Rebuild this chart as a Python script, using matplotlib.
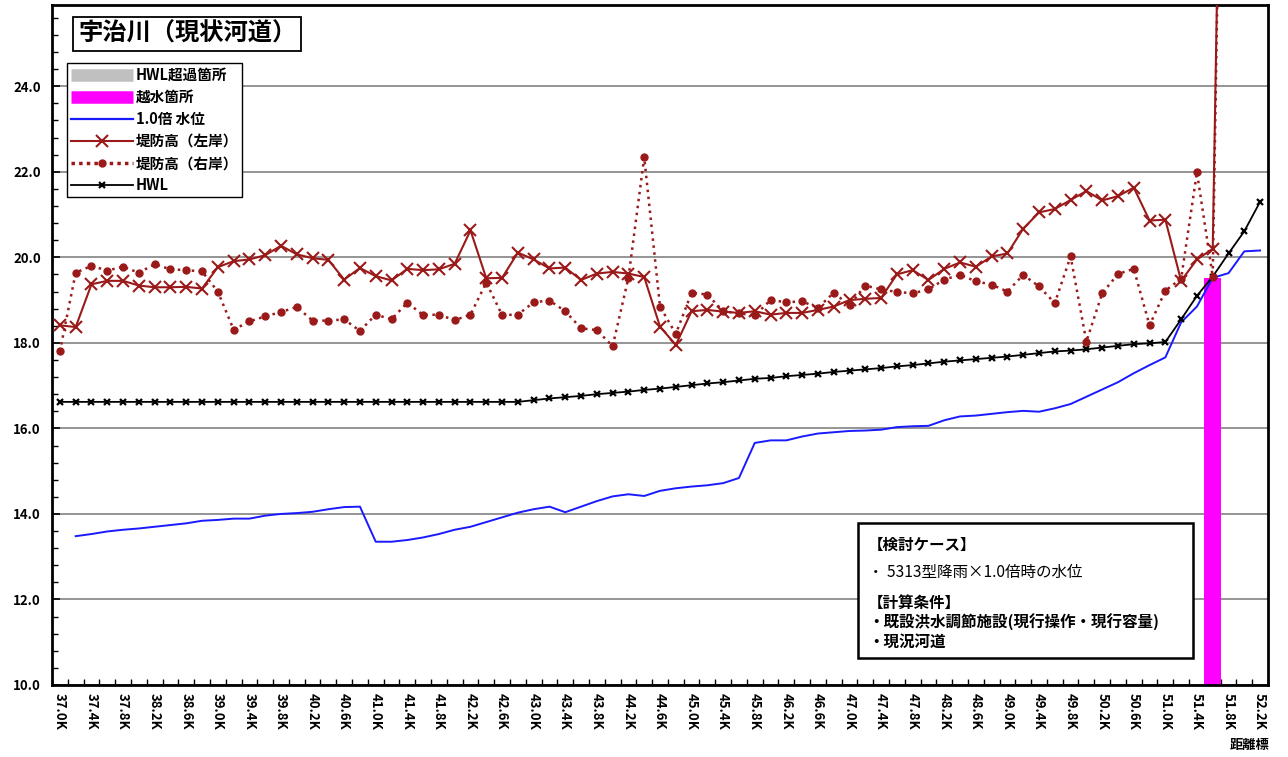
import numpy as np
import matplotlib
matplotlib.use("Agg")
import matplotlib.pyplot as plt
from matplotlib.lines import Line2D
from matplotlib.patches import Rectangle
from matplotlib.ticker import FixedLocator, MultipleLocator

plt.rcParams['font.family'] = ['Noto Sans CJK JP', 'DejaVu Sans']

# ---------------- data ----------------
stations = [f"{37.0 + 0.2 * i:.1f}K" for i in range(77)]

left_bank = [18.41, 18.37, 19.37, 19.45, 19.45, 19.34, 19.30, 19.30, 19.31, 19.27,
             19.77, 19.91, 19.95, 20.05, 20.27, 20.07, 19.98, 19.94, 19.48, 19.75,
             19.56, 19.46, 19.73, 19.70, 19.72, 19.85, 20.63, 19.51, 19.52, 20.11,
             19.95, 19.74, 19.76, 19.47, 19.62, 19.66, 19.62, 19.54, 18.38, 17.95,
             18.74, 18.77, 18.73, 18.70, 18.74, 18.66, 18.70, 18.70, 18.77, 18.85,
             19.00, 19.03, 19.05, 19.60, 19.70, 19.47, 19.73, 19.88, 19.78, 20.02,
             20.09, 20.67, 21.05, 21.13, 21.34, 21.55, 21.33, 21.43, 21.63, 20.86,
             20.88, 19.45, 19.95, 20.20, 42.0, None, None]

right_bank = [17.80, 19.64, 19.80, 19.69, 19.78, 19.64, 19.84, 19.72, 19.70, 19.67,
              19.20, 18.31, 18.50, 18.62, 18.72, 18.84, 18.52, 18.52, 18.55, 18.28,
              18.66, 18.55, 18.94, 18.65, 18.66, 18.53, 18.66, 19.41, 18.65, 18.66,
              18.95, 18.99, 18.74, 18.34, 18.30, 17.92, 19.52, 22.34, 18.85, 18.21,
              19.17, 19.13, 18.74, 18.69, 18.64, 19.00, 18.95, 18.97, 18.82, 19.17,
              18.88, 19.34, 19.25, 19.19, 19.16, 19.25, 19.48, 19.59, 19.44, 19.36,
              19.20, 19.59, 19.32, 18.93, 20.02, 18.03, 19.16, 19.61, 19.73, 18.41,
              19.22, 19.50, 21.99, 19.55, 42.0, None, None]

water_level = [None, 13.48, 13.53, 13.59, 13.63, 13.66, 13.70, 13.74, 13.78, 13.84,
               13.86, 13.89, 13.89, 13.96, 14.00, 14.02, 14.05, 14.11, 14.16, 14.17,
               13.35, 13.35, 13.39, 13.45, 13.53, 13.63, 13.70, 13.81, 13.92, 14.03,
               14.11, 14.17, 14.04, 14.17, 14.30, 14.41, 14.46, 14.42, 14.54, 14.60,
               14.64, 14.67, 14.72, 14.84, 15.66, 15.72, 15.72, 15.81, 15.88, 15.91,
               15.94, 15.95, 15.97, 16.03, 16.05, 16.06, 16.19, 16.28, 16.30, 16.34,
               16.38, 16.41, 16.39, 16.47, 16.57, 16.74, 16.91, 17.08, 17.29, 17.48,
               17.66, 18.48, 18.85, 19.52, 19.63, 20.14, 20.16]

hwl = [16.62] * 30 + [16.66, 16.70, 16.73, 16.76, 16.80, 16.83, 16.86, 16.90, 16.93, 16.97,
                      17.01, 17.05, 17.08, 17.12, 17.16, 17.18, 17.22, 17.25, 17.28, 17.32,
                      17.35, 17.38, 17.41, 17.45, 17.48, 17.52, 17.56, 17.59, 17.62, 17.65,
                      17.68, 17.72, 17.76, 17.80, 17.82, 17.85, 17.89, 17.93, 17.97, 17.99,
                      18.02, 18.55, 19.10, 19.55, 20.09, 20.61, 21.30]

# overtopping location (越水箇所): water level at that station
overtop_station = "51.6K"
overtop_level = 19.52

legend_labels = ["HWL超過箇所", "越水箇所", "1.0倍 水位", "堤防高（左岸）", "堤防高（右岸）", "HWL"]
title_text = "宇治川（現状河道）"
note_lines = ["【検討ケース】", "・ 5313型降雨×1.0倍時の水位", "【計算条件】",
              "・既設洪水調節施設(現行操作・現行容量)", "・現況河道"]

def arr(v):
    return np.array([np.nan if a is None else a for a in v], dtype=float)

x = np.arange(len(stations))

# ---------------- figure ----------------
fig = plt.figure(figsize=(12.88, 7.57), dpi=100)
ax = fig.add_axes([52 / 1288, 1 - 685 / 757, (1268 - 52) / 1288, (685 - 5) / 757])

BROWN = "#9a1a1a"
BLUE = "#1a1aff"
MAG = "#ff00ff"

ax.yaxis.grid(True, color="#8c8c8c", lw=1.3)
ax.set_axisbelow(True)

ox = stations.index(overtop_station)
ax.bar([ox], [overtop_level], width=1.1, color=MAG, zorder=2)

ax.plot(x, arr(water_level), color=BLUE, lw=1.4, zorder=3)
ax.plot(x, arr(hwl), color="black", lw=1.3, marker="x", ms=4, mew=1.6, zorder=4)
ax.plot(x, arr(right_bank), color=BROWN, lw=1.8, ls=(0, (1, 1.8)), marker="o", ms=5,
        mec=BROWN, mfc=BROWN, zorder=5)
ax.plot(x, arr(left_bank), color=BROWN, lw=1.5, marker="x", ms=9, mew=1.5, zorder=6)

ax.set_xlim(-0.5, len(stations) - 0.5)
ax.set_ylim(10, 25.9)

ax.set_yticks(np.arange(10, 25, 2))
ax.set_yticklabels([f"{v:.1f}" for v in np.arange(10, 25, 2)], fontsize=9.5, fontweight="bold")
ax.yaxis.set_minor_locator(MultipleLocator(0.4))
ax.tick_params(axis="y", which="major", direction="in", length=6, width=1.2, pad=8)
ax.tick_params(axis="y", which="minor", direction="in", length=4, width=1.0)

ax.set_xticks(x[::2])
ax.set_xticklabels(stations[::2], rotation=-90, fontsize=9.5, fontweight="bold")
ax.xaxis.set_minor_locator(FixedLocator(np.arange(-0.5, len(stations), 1.0)))
ax.tick_params(axis="x", which="major", length=0, pad=6)
ax.tick_params(axis="x", which="minor", direction="in", length=4, width=1.0)

for s in ax.spines.values():
    s.set_linewidth(2.0)
    s.set_color("black")

# legend
handles = [
    Line2D([], [], color="#c0c0c0", lw=9, solid_capstyle="butt"),
    Line2D([], [], color=MAG, lw=9, solid_capstyle="butt"),
    Line2D([], [], color=BLUE, lw=1.6),
    Line2D([], [], color=BROWN, lw=1.5, marker="x", ms=9, mew=1.5),
    Line2D([], [], color=BROWN, lw=2.5, ls=(0, (1, 1.2)), marker="o", ms=5),
    Line2D([], [], color="black", lw=1.3, marker="x", ms=4, mew=1.6),
]
leg = fig.legend(handles, legend_labels, loc="upper left",
                 bbox_to_anchor=(67 / 1288, 1 - 63 / 757), bbox_transform=fig.transFigure,
                 borderaxespad=0, fancybox=False, framealpha=1, edgecolor="black",
                 handlelength=4.3, handletextpad=0.15, labelspacing=0.42,
                 borderpad=0.25, prop={"size": 10.5, "weight": "bold"})
leg.get_frame().set_linewidth(1.0)

# title box
fig.text(78 / 1288, 1 - 34 / 757, title_text, fontsize=17.5, fontweight="bold",
         va="center", ha="left",
         bbox=dict(boxstyle="square,pad=0.2", fc="white", ec="black", lw=1.3))

# note box
fig.patches.append(Rectangle((858 / 1288, 1 - 658 / 757), (1193 - 858) / 1288,
                             (658 - 523) / 757, transform=fig.transFigure,
                             fc="white", ec="black", lw=1.8, zorder=10))
ys = [545, 572, 603, 622, 642]
weights = ["bold", "normal", "bold", "bold", "bold"]
for t, yy, w in zip(note_lines, ys, weights):
    fig.text(868 / 1288, 1 - yy / 757, t, fontsize=11.2, fontweight=w, va="center",
             ha="left", zorder=11)

fig.text(1250 / 1288, 1 - 745 / 757, "距離標", fontsize=9.5, fontweight="bold",
         ha="center", va="center")

fig.savefig("out.png", dpi=100)
